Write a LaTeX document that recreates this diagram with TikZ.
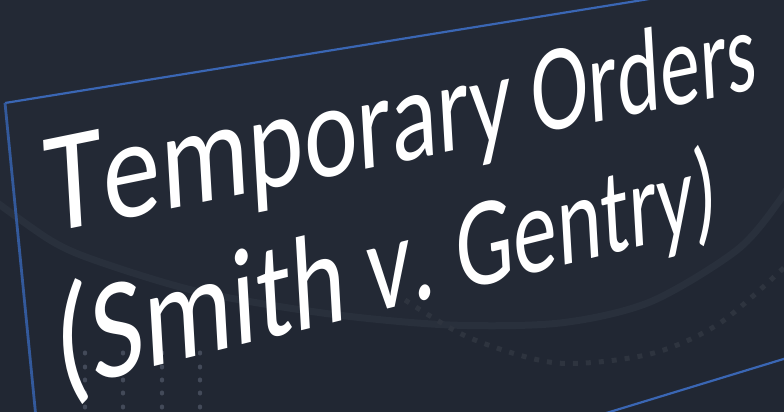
\documentclass[tikz,border=0pt]{standalone}
\usepackage{fontspec}
\setmainfont{Carlito}

\definecolor{slidebg}{HTML}{212733}
\definecolor{discfill}{HTML}{232935}
\definecolor{discrim}{HTML}{29303C}
\definecolor{squaredots}{HTML}{2E343F}
\definecolor{rounddots}{HTML}{434A59}
\definecolor{frameblue}{HTML}{3A66B4}
\definecolor{frameside}{HTML}{33599B}

% ---- glyph-by-glyph placement on a receding plane ----
\font\titleraw="Carlito" at 100pt
\newdimen\glyphw
\newdimen\runw
\newcount\glyphno
\newbox\glyphbox
\newcommand\measureglyph[1]{\setbox\glyphbox=\hbox{\titleraw #1}\glyphw=\wd\glyphbox}
% pt per em along the baseline at the line start, foreshortening rate, pt per em upwards
\newcommand\perA{124}
\newcommand\perB{0.037}
\newcommand\perV{146}

% origin x, origin y, baseline direction (x,y), upright direction (x,y)
\newcommand\startline[6]{%
  \gdef\Lox{#1}\gdef\Loy{#2}\gdef\Ldx{#3}\gdef\Ldy{#4}\gdef\Lux{#5}\gdef\Luy{#6}%
  \global\runw=0pt\relax}

\newcommand\pglyph[1]{%
  \measureglyph{#1}%
  \pgfmathsetmacro\gtS{\runw/100}%
  \pgfmathsetmacro\gtC{(\runw+0.5*\glyphw)/100}%
  \pgfmathsetmacro\gsS{\perA*\gtS/(1+\perB*\gtS)}%
  \pgfmathsetmacro\ghS{\perA/((1+\perB*\gtC)^2)/100}%
  \pgfmathsetmacro\gvS{\perV/(1+\perB*\gtC)/100}%
  \pgfmathsetmacro\gma{\ghS*\Ldx}%
  \pgfmathsetmacro\gmb{\ghS*\Ldy}%
  \pgfmathsetmacro\gmc{\gvS*\Lux}%
  \pgfmathsetmacro\gmd{\gvS*\Luy}%
  \pgfmathsetmacro\gPx{\Lox+\gsS*\Ldx}%
  \pgfmathsetmacro\gPy{\Loy+\gsS*\Ldy}%
  \global\advance\glyphno by 1\relax
  \begin{scope}[shift={(\gPx,\gPy)},cm={\gma,\gmb,\gmc,\gmd,(0,0)}]
    \node[titleglyph] (g\the\glyphno) at (0,0) {#1};
  \end{scope}%
  \global\advance\runw by \glyphw\relax}

\newcommand\pspace{%
  \global\advance\runw by \fontdimen2\titleraw\relax}

\tikzset{
  titleglyph/.style={anchor=base west, inner sep=0pt, outer sep=0pt,
    text=white, font=\titleraw, transform shape},
  framerule/.style={draw=frameblue, line width=2.2pt},
  dotmark/.style={fill=rounddots, draw=none},
}

\begin{document}
\begin{tikzpicture}[x=1pt,y=1pt]
  \useasboundingbox (0,0) rectangle (784,412);
  \clip (0,0) rectangle (784,412);

  % background and the large faint disc
  \fill[slidebg] (0,0) rectangle (784,412);
  \fill[discfill] plot[smooth] coordinates {(-20,222) (50,172) (100,150) (200,120) (330,98)
        (450,87) (560,89) (650,110) (737,162) (780,212) (800,247)}
        -- (800,420) -- (-20,420) -- cycle;
  \draw[discrim, line width=7pt] plot[smooth] coordinates {(-20,222) (50,172) (100,150)
        (200,120) (330,98) (450,87) (560,89) (650,110) (737,162) (780,212) (800,247)};

  % arc of small squares
  \draw[squaredots, line width=5pt, dash pattern=on 5pt off 8pt]
        plot[smooth] coordinates {(405,112) (470,74) (557,49) (650,58) (720,89) (790,150)};

  % grid of round dots
  \foreach \cx in {85,123,162,200}
    \foreach \cy in {59,45,32,19,5}
      \fill[dotmark] (\cx,\cy) ellipse [x radius=2.2pt, y radius=2.6pt];

  % slide frame seen at an angle
  \coordinate (cornerTL) at (5,309);
  \coordinate (topEnd) at (680,418);
  \coordinate (leftEnd) at (36,-6);
  \coordinate (botStart) at (590,-6);
  \coordinate (botEnd) at (800,58);
  \draw[framerule] (topEnd) -- (cornerTL);
  \draw[framerule, draw=frameside, line width=2.8pt] (cornerTL) -- (leftEnd);
  \draw[framerule] (botStart) -- (botEnd);

  % title, first line
  \startline{47.6}{178}{0.980}{0.200}{-0.057}{0.998}
  \pglyph{T}\pglyph{e}\pglyph{m}\pglyph{p}\pglyph{o}\pglyph{r}\pglyph{a}\pglyph{r}\pglyph{y}%
  \pspace
  \pglyph{O}\pglyph{r}\pglyph{d}\pglyph{e}\pglyph{r}\pglyph{s}

  % title, second line
  \startline{57}{21}{0.9706}{0.2407}{-0.057}{0.998}
  \pglyph{(}\pglyph{S}\pglyph{m}\pglyph{i}\pglyph{t}\pglyph{h}%
  \pspace
  \pglyph{v}\pglyph{.}%
  \pspace
  \pglyph{G}\pglyph{e}\pglyph{n}\pglyph{t}\pglyph{r}\pglyph{y}\pglyph{)}
\end{tikzpicture}
\end{document}
